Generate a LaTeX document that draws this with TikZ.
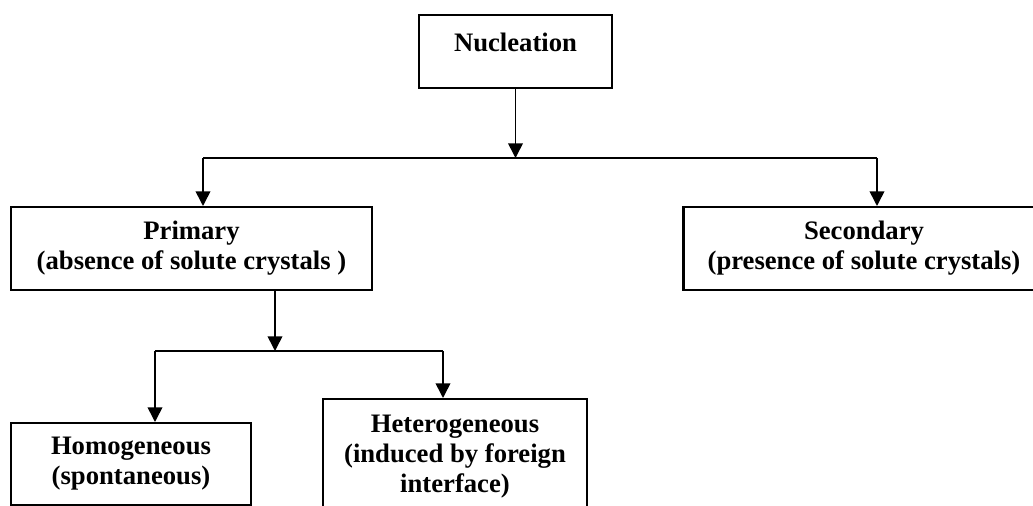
\documentclass[tikz,border=0pt]{standalone}
\usepackage{fontspec}
\setmainfont{Liberation Serif}
\usetikzlibrary{arrows.meta}
\tikzset{
    box/.style={draw, line width=1.6pt, align=center, anchor=north, inner sep=0pt, font=\fontsize{20}{22.5}\selectfont\bfseries}, % 方框的样式
    arr/.style={line width=1.2pt, -{Triangle[width=11pt, length=11pt]}}, % 带箭头的连线
    link/.style={line width=1.2pt} % 不带箭头的连线
}

\begin{document}
\begin{tikzpicture}[x=0.75pt, y=-0.75pt]
    \def\W{1033} \def\H{506}
    \useasboundingbox (0,0) rectangle (\W,\H);
    \clip (0,0) rectangle (\W,\H);

    \node[box, minimum width=144.75pt, minimum height=54.75pt, text depth=14pt] (nuc) at (515.5,14) {Nucleation};
    \node[box, minimum width=270.75pt, minimum height=62.25pt] (prim) at (191.5,206) {Primary\\(absence of solute crystals )};
    \node[box, minimum width=270.75pt, minimum height=62.25pt] (sec) at (864,206) {Secondary\\(presence of solute crystals)};
    \node[box, minimum width=180pt, minimum height=61.5pt] (homo) at (131,422) {Homogeneous\\(spontaneous)};
    \node[box, minimum width=198pt, minimum height=86.25pt] (het) at (455,398) {Heterogeneous\\(induced by foreign\\interface)};

    \coordinate (j1) at (515.5,158); \coordinate (j1l) at (203,158); \coordinate (j1r) at (877,158);
    \coordinate (j2) at (275,351); \coordinate (j2l) at (155,351); \coordinate (j2r) at (443,351);

    \draw[arr] (nuc.south) -- (j1);
    \draw[link] (j1l) -- (j1r);
    \draw[arr] (j1l) -- (j1l |- prim.north);
    \draw[arr] (j1r) -- (j1r |- sec.north);
    \draw[arr] (j2 |- prim.south) -- (j2);
    \draw[link] (j2l) -- (j2r);
    \draw[arr] (j2l) -- (j2l |- homo.north);
    \draw[arr] (j2r) -- (j2r |- het.north);
\end{tikzpicture}
\end{document}
